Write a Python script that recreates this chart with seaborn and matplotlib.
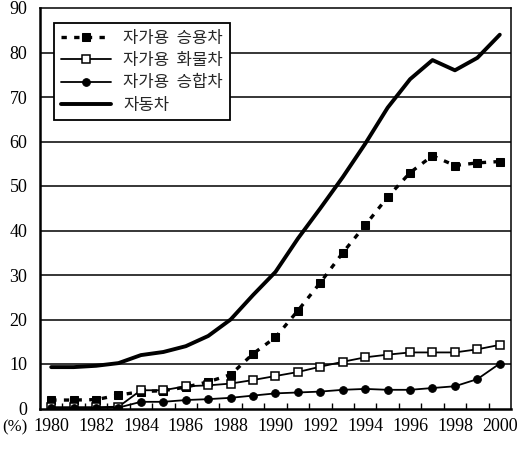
import matplotlib
matplotlib.use("Agg")
import matplotlib.pyplot as plt
import seaborn as sns
import numpy as np
from matplotlib.ticker import FixedLocator

years = list(range(1980, 2001))
passenger = [1.9, 1.9, 2.0, 3.0, 3.8, 4.0, 4.8, 6.0, 7.6, 12.3, 16.0, 22.0, 28.3, 35.0, 41.2, 47.5, 53.0, 56.8, 54.6, 55.2, 55.5]
truck = [0.3, 0.3, 0.3, 0.4, 4.1, 4.1, 5.0, 5.2, 5.6, 6.4, 7.3, 8.2, 9.4, 10.5, 11.5, 12.1, 12.6, 12.6, 12.6, 13.3, 14.3]
van = [0.1, 0.1, 0.1, 0.2, 1.5, 1.5, 1.9, 2.1, 2.4, 2.9, 3.4, 3.6, 3.8, 4.2, 4.4, 4.2, 4.2, 4.6, 5.0, 6.6, 10.1]
total = [9.3, 9.3, 9.6, 10.2, 12.0, 12.7, 14.0, 16.3, 20.0, 25.5, 30.7, 38.2, 45.0, 52.0, 59.5, 67.6, 74.0, 78.3, 76.0, 78.8, 84.0]
labels = ["자가용  승용차", "자가용  화물차", "자가용  승합차", "자동차"]
yticks = list(range(0, 100, 10))
xlabels = list(range(1980, 2001, 2))

sns.set_theme(style="white")
plt.rcParams['font.family'] = ['Liberation Serif', 'DejaVu Serif']

fig = plt.figure(figsize=(5.18, 4.5), dpi=100)
ax = fig.add_axes([40/518, 1 - 408.5/450, 471/518, 400.5/450])

ax.set_ylim(0, 90)
ax.set_xlim(1979.5, 2000.5)
for v in yticks[1:-1]:
    ax.axhline(v, color="black", lw=1.1, zorder=0)

sns.lineplot(x=years, y=passenger, ax=ax, color="black", lw=2.4, linestyle=(0, (1.6, 2.2)),
             marker="s", markersize=5.5, markerfacecolor="black", markeredgecolor="black", label=labels[0])
sns.lineplot(x=years, y=truck, ax=ax, color="black", lw=1.3,
             marker="s", markersize=5.5, markerfacecolor="white", markeredgecolor="black", markeredgewidth=1.1, label=labels[1])
sns.lineplot(x=years, y=van, ax=ax, color="black", lw=1.3,
             marker="o", markersize=5.5, markerfacecolor="black", markeredgecolor="black", label=labels[2])
sns.lineplot(x=years, y=total, ax=ax, color="black", lw=2.8, label=labels[3])

ax.set_yticks(yticks)
ax.set_yticklabels([str(v) for v in yticks])
ax.set_xticks(xlabels)
ax.set_xticklabels([str(v) for v in xlabels])
ax.xaxis.set_minor_locator(FixedLocator([y + 0.5 for y in years[:-1]]))
ax.tick_params(axis="x", which="major", length=0, pad=7, labelsize=13, colors="black")
ax.tick_params(axis="x", which="minor", direction="in", length=4, width=1, color="black", bottom=True)
ax.tick_params(axis="y", which="major", length=0, pad=9, labelsize=13, colors="black")
ax.set_xlabel("")
ax.set_ylabel("")
for s in ax.spines.values():
    s.set_visible(True)
    s.set_color("black")
    s.set_linewidth(1.1)
ax.spines["left"].set_linewidth(1.8)
ax.spines["bottom"].set_linewidth(1.8)

leg = ax.legend(loc="upper left", bbox_to_anchor=(14/471, 1 - 15/400.5), borderaxespad=0,
                frameon=True, fancybox=False, edgecolor="black", framealpha=1,
                prop={"family": ["Noto Sans CJK KR"], "size": 12},
                handlelength=3.0, handletextpad=0.75, labelspacing=0.32, borderpad=0.4)
leg.get_frame().set_linewidth(1.3)

fig.text(15/518, 1 - 427/450, "(%)", ha="center", va="center", fontsize=12, color="black")

fig.savefig("out.png", dpi=100)
